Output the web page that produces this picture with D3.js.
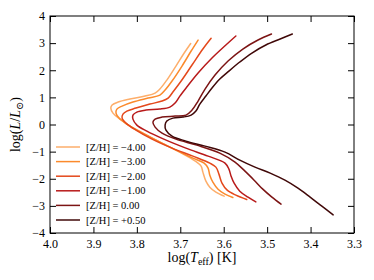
<!DOCTYPE html>
<html>
  <head>
    <meta charset="utf-8">
    <title>Isochrones</title>
    <script src="https://d3js.org/d3.v7.min.js"></script>
    <style>
      body { margin: 0; background: #fff; }
      text { font-family: "Liberation Serif", "DejaVu Serif", serif; fill: #000; }
      .domain { stroke: none; }
      .tick line { stroke: #000; stroke-width: 1px; }
      .curve { fill: none; stroke-width: 1.5px; stroke-linejoin: round; stroke-linecap: round; }
    </style>
  </head>
  <body>
    <script>

      var outerWidth = 374;
      var outerHeight = 280;
      var margin = { left: 50, right: 20, top: 16, bottom: 47 };

      // tick labels
      var xTicks = [4.0, 3.9, 3.8, 3.7, 3.6, 3.5, 3.4, 3.3];
      var yTicks = [-4, -3, -2, -1, 0, 1, 2, 3, 4];

      // metallicities, legend order
      var metals = ["\u22124.00", "\u22123.00", "\u22122.00", "\u22121.00", "0.00", "+0.50"];
      var colors = ["#fdae6b", "#fb8a2c", "#e4481b", "#b81a1a", "#7c1414", "#400808"];

      // each track: [log Teff, log L/Lsun]
      var trackM400 = [[3.676,2.985],[3.691,2.635],[3.710,2.155],[3.731,1.638],[3.747,1.306],[3.758,1.159],
        [3.781,1.048],[3.816,0.937],[3.843,0.827],[3.857,0.716],[3.860,0.605],[3.855,0.421],[3.839,0.199],
        [3.809,-0.133],[3.770,-0.465],[3.728,-0.797],[3.689,-1.129],[3.662,-1.387],[3.652,-1.535],
        [3.648,-1.756],[3.641,-2.089],[3.632,-2.310],[3.618,-2.494],[3.599,-2.642]];
      var trackM300 = [[3.659,3.114],[3.675,2.709],[3.696,2.155],[3.719,1.602],[3.735,1.269],[3.747,1.085],
        [3.774,0.974],[3.809,0.827],[3.834,0.679],[3.846,0.568],[3.848,0.421],[3.841,0.236],[3.823,0.015],
        [3.790,-0.280],[3.751,-0.613],[3.710,-0.945],[3.671,-1.240],[3.645,-1.424],[3.636,-1.609],
        [3.632,-1.867],[3.625,-2.125],[3.613,-2.384],[3.597,-2.568],[3.579,-2.690]];
      var trackM200 = [[3.629,3.177],[3.648,2.782],[3.673,2.192],[3.698,1.602],[3.717,1.196],[3.728,0.974],
        [3.742,0.864],[3.770,0.753],[3.802,0.605],[3.823,0.495],[3.832,0.384],[3.834,0.236],[3.825,0.052],
        [3.802,-0.207],[3.765,-0.539],[3.719,-0.871],[3.671,-1.166],[3.632,-1.424],[3.618,-1.572],
        [3.611,-1.830],[3.604,-2.162],[3.592,-2.421],[3.572,-2.605],[3.547,-2.764]];
      var trackM100 = [[3.572,3.262],[3.595,2.930],[3.627,2.450],[3.659,1.897],[3.685,1.380],[3.701,1.048],
        [3.712,0.790],[3.724,0.642],[3.747,0.568],[3.779,0.531],[3.800,0.458],[3.809,0.347],[3.809,0.199],
        [3.800,-0.022],[3.777,-0.244],[3.738,-0.539],[3.687,-0.871],[3.636,-1.166],[3.597,-1.424],
        [3.588,-1.646],[3.583,-1.904],[3.576,-2.162],[3.563,-2.458],[3.544,-2.679],[3.526,-2.852]];
      var trackP000 = [[3.490,3.336],[3.521,3.114],[3.556,2.782],[3.590,2.340],[3.620,1.823],[3.643,1.306],
        [3.659,0.864],[3.673,0.531],[3.687,0.347],[3.712,0.310],[3.742,0.273],[3.758,0.199],[3.763,0.089],
        [3.758,-0.096],[3.742,-0.317],[3.710,-0.539],[3.662,-0.760],[3.609,-1.055],[3.574,-1.387],
        [3.551,-1.720],[3.530,-2.052],[3.510,-2.384],[3.489,-2.679],[3.468,-2.937]];
      var trackP050 = [[3.442,3.336],[3.470,3.151],[3.503,2.930],[3.535,2.635],[3.563,2.303],[3.588,1.970],
        [3.609,1.675],[3.627,1.343],[3.641,1.048],[3.655,0.753],[3.664,0.495],[3.675,0.347],[3.694,0.273],
        [3.717,0.236],[3.731,0.126],[3.735,-0.022],[3.733,-0.207],[3.719,-0.428],[3.687,-0.613],
        [3.643,-0.797],[3.597,-1.018],[3.563,-1.314],[3.528,-1.572],[3.493,-1.793],[3.459,-2.052],
        [3.429,-2.347],[3.401,-2.679],[3.374,-3.011],[3.348,-3.332]];

      var tracks = [trackM400, trackM300, trackM200, trackM100, trackP000, trackP050];

      var width = outerWidth - margin.left - margin.right;
      var height = outerHeight - margin.top - margin.bottom;

      var svg = d3.select("body").append("svg")
        .attr("width", outerWidth)
        .attr("height", outerHeight);

      var g = svg.append("g")
        .attr("transform", "translate(" + margin.left + "," + margin.top + ")");

      var xScale = d3.scaleLinear().domain([4.0, 3.3]).range([0, width]);
      var yScale = d3.scaleLinear().domain([-4, 4]).range([height, 0]);

      var line = d3.line()
        .x(function (d){ return xScale(d[0]); })
        .y(function (d){ return yScale(d[1]); })
        .curve(d3.curveCatmullRom.alpha(0.5));

      g.selectAll(".curve").data(tracks)
        .enter().append("path")
          .attr("class", "curve")
          .attr("d", line)
          .attr("stroke", function (d, i){ return colors[i]; });

      // axes, ticks pointing inwards on all four sides
      var xAxis = g.append("g")
        .attr("transform", "translate(0," + height + ")")
        .call(d3.axisBottom(xScale).tickValues(xTicks).tickSize(-6).tickPadding(6)
          .tickFormat(d3.format(".1f")));
      g.append("g")
        .call(d3.axisTop(xScale).tickValues(xTicks).tickSize(-6).tickFormat(""));
      var yAxis = g.append("g")
        .call(d3.axisLeft(yScale).tickValues(yTicks).tickSize(-6).tickPadding(5)
          .tickFormat(d3.format("d")));
      g.append("g")
        .attr("transform", "translate(" + width + ",0)")
        .call(d3.axisRight(yScale).tickValues(yTicks).tickSize(-6).tickFormat(""));

      svg.selectAll(".tick text").style("font-size", "12px").style("font-family", "Liberation Serif");

      g.append("rect")
        .attr("width", width)
        .attr("height", height)
        .attr("fill", "none")
        .attr("stroke", "#000")
        .attr("stroke-width", 1);

      // axis titles
      var xt = svg.append("text")
        .attr("x", margin.left + width / 2)
        .attr("y", 262)
        .attr("text-anchor", "middle")
        .style("font-size", "14px");
      xt.append("tspan").text("log(");
      xt.append("tspan").style("font-style", "italic").text("T");
      xt.append("tspan").attr("dy", 3).style("font-size", "10px").text("eff");
      xt.append("tspan").attr("dy", -3).text(") [K]");

      var yt = svg.append("text")
        .attr("transform", "translate(20," + (margin.top + height / 2) + ") rotate(-90)")
        .attr("text-anchor", "middle")
        .style("font-size", "14px");
      yt.append("tspan").text("log(");
      yt.append("tspan").style("font-style", "italic").text("L");
      yt.append("tspan").text("/");
      yt.append("tspan").style("font-style", "italic").text("L");
      yt.append("tspan").attr("dy", 3).style("font-size", "10px").text("\u2299");
      yt.append("tspan").attr("dy", -3).text(")");

      // legend
      var legend = g.append("g").attr("transform", "translate(6,131)");
      var items = legend.selectAll(".item").data(metals)
        .enter().append("g")
          .attr("transform", function (d, i){ return "translate(0," + (i * 14.6) + ")"; });
      items.append("line")
        .attr("x1", 0).attr("x2", 24)
        .attr("stroke-width", 1.5)
        .attr("stroke", function (d, i){ return colors[i]; });
      items.append("text")
        .attr("x", 30)
        .attr("dy", "0.35em")
        .style("font-size", "10.5px")
        .text(function (d){ return "[Z/H] = " + d; });

    </script>
  </body>
</html>
